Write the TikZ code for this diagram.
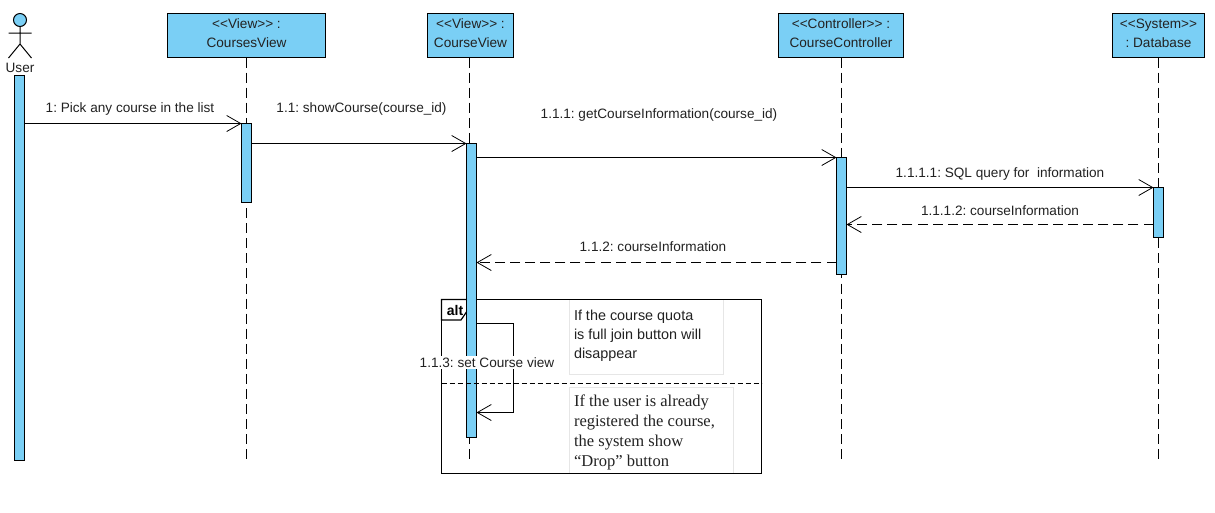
\documentclass[tikz,border=0pt]{standalone}
\usepackage{fontspec}
\setmainfont{Liberation Sans}[Ligatures=NoCommon]
\newfontfamily\notefont{Liberation Serif}
\usetikzlibrary{arrows.meta,shapes.geometric,calc}
\definecolor{umlblue}{HTML}{7ACFF5}
\definecolor{notegray}{HTML}{E6E6E6}
\definecolor{inktext}{HTML}{222222}
\newcommand\lowstrut{\rule[-3pt]{0pt}{0pt}}
\tikzset{
  x=0.75pt,y=-0.75pt,
  every node/.style={inner sep=0pt,outer sep=0pt,text=inktext,font=\fontsize{10.2}{14.25}\selectfont},
  obj/.style={draw=black,fill=umlblue,line width=0.9pt,align=center,minimum height=33pt,anchor=north west},
  life/.style={draw=black,line width=0.75pt,dash pattern=on 7.5pt off 3.8pt},
  bar/.style={draw=black,fill=umlblue,line width=0.75pt,minimum width=7.5pt,anchor=north},
  msg/.style={draw=black,line width=0.75pt,-{Straight Barb[length=10.5pt,width=12pt,line width=0.6pt]}},
  ret/.style={msg,dash pattern=on 7.5pt off 3.8pt},
  note/.style={draw=notegray,fill=white,line width=0.5pt,anchor=north west},
  notetext/.style={anchor=north west,align=left},
  label/.style={anchor=center},
}
\begin{document}
\frenchspacing
\begin{tikzpicture}
\useasboundingbox (0,0) rectangle (1215,512);
\fill[white] (0,0) rectangle (1215,512);
% objects
\node[obj,minimum width=118.5pt] (cs) at (167.5,13.5) {<{}<View>{}> :\\CoursesView\lowstrut};
\node[obj,minimum width=64.5pt] (cv) at (427.5,13.5) {<{}<View>{}> :\\CourseView\lowstrut};
\node[obj,minimum width=93.75pt] (cc) at (778.5,13.5) {<{}<Controller>{}> :\\CourseController\lowstrut};
\node[obj,minimum width=69pt] (db) at (1112.5,13.5) {<{}<System>{}>\\: Database\lowstrut};
% life line ends
\coordinate (csend) at (246.5,463);
\coordinate (cvend) at (469.5,463);
\coordinate (ccend) at (841.5,463);
\coordinate (dbend) at (1158.5,463);
\draw[life] (csend |- cs.south) -- (csend);
\draw[life] (cvend |- cv.south) -- (cvend);
\draw[life] (ccend |- cc.south) -- (ccend);
\draw[life] (dbend |- db.south) -- (dbend);
% frame
\node[note,minimum width=115.5pt,minimum height=56.25pt] (n1) at (569.5,299.5) {};
\node[note,minimum width=123pt,minimum height=64.5pt] (n2) at (569.5,387.5) {};
\node[draw=black,line width=0.9pt,minimum width=240pt,minimum height=130.5pt,anchor=north west] (frame) at (441.5,299.5) {};
\draw[black,line width=0.9pt,fill=white] (441.5,299.5) -- (468.5,299.5) -- (468.5,309) -- (461,320) -- (441.5,320) -- cycle;
\node[font=\fontsize{10.5}{12}\selectfont\bfseries,text=black] (alt) at (455,310.5) {alt};
\node[notetext,font=\fontsize{10.8}{14.25}\selectfont] (n1t) at (574,310) {If the course quota\\is full join button will\\disappear};
\node[notetext,font=\notefont\fontsize{12.4}{15}\selectfont] (n2t) at (574,395) {If the user is already\\registered the course,\\the system show\\“Drop” button};
% actor
\draw[fill=umlblue,draw=black,line width=0.75pt] (20,20) circle[radius=6.5];
\draw[black,line width=0.75pt] (20,26.5) -- (20,44) (8.5,33) -- (31.5,33) (8.5,58) -- (20,44) -- (31.5,58);
\node (usr) at (20,68) {User};
% activations
\node[bar,minimum height=288.75pt] (au) at (19.5,75.5) {};
\node[bar,minimum height=59.25pt] (acs) at (246.5,123.5) {};
\node[bar,minimum height=220.5pt] (acv) at (471.5,143.5) {};
\node[bar,minimum height=87.75pt] (acc) at (841.5,157.5) {};
\node[bar,minimum height=37.5pt] (adb) at (1158.5,187.5) {};
% messages
\draw[msg] (au.east |- acs.north) -- (acs.north west);
\node[label] at (130,109) {1: Pick any course in the list};
\draw[msg] (acs.east |- acv.north) -- (acv.north west);
\node[label] at (361.5,109) {1.1: showCourse(course\_id)};
\draw[msg] (acv.east |- acc.north) -- (acc.north west);
\node[label] at (659,115) {1.1.1: getCourseInformation(course\_id)};
\draw[msg] (acc.east |- adb.north) -- (adb.north west);
\node[label] at (1000,173.5) {1.1.1.1: SQL query for\ \ information};
\coordinate (r1) at (0,224.5);
\draw[ret] (adb.west |- r1) -- (acc.east |- r1);
\node[label] at (1000,211) {1.1.1.2: courseInformation};
\coordinate (r2) at (0,262.5);
\draw[ret] (acc.west |- r2) -- (acv.east |- r2);
\node[label] at (653,247) {1.1.2: courseInformation};
% self message
\coordinate (s1) at (513.5,323.5);
\coordinate (s2) at (513.5,412.5);
\draw[msg] (acv.east |- s1) -- (s1) -- (s2) -- (acv.east |- s2);
\node[label,fill=white,inner sep=1pt] (sl) at (487,362.5) {1.1.3: set Course view};
\draw[black,line width=0.75pt,dash pattern=on 3.75pt off 2.25pt] (frame.west |- 0,383.5) -- (frame.east |- 0,383.5);
\end{tikzpicture}
\end{document}
